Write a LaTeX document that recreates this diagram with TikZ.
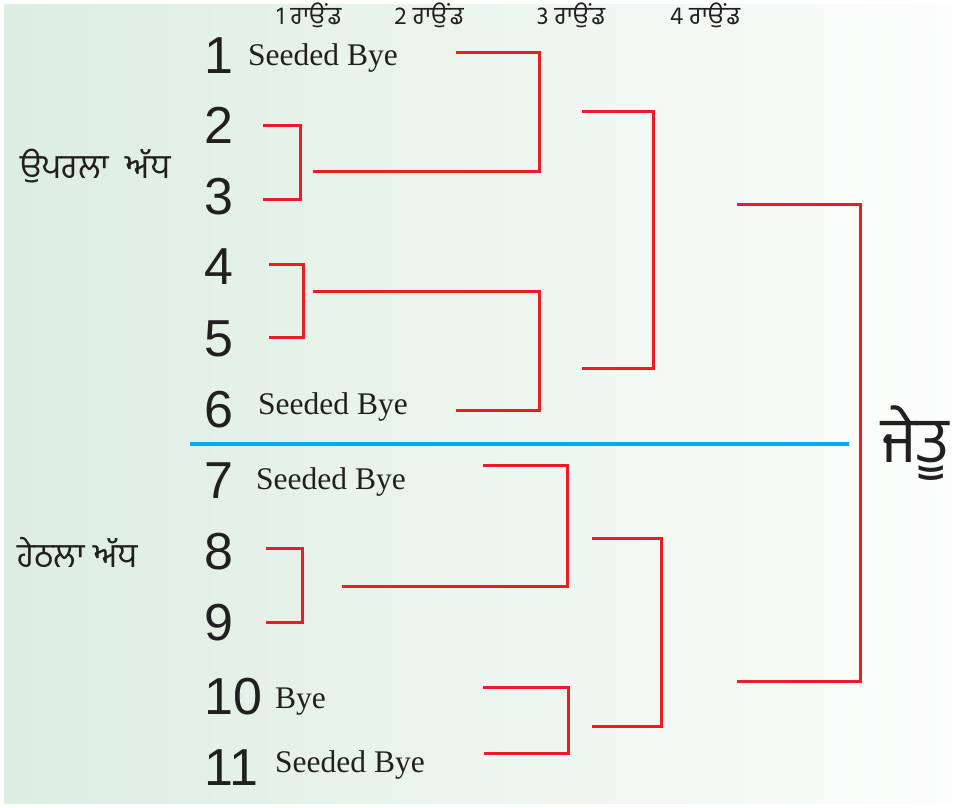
\documentclass[tikz,border=0pt]{standalone}
\usepackage{fontspec}
\setmainfont{Liberation Serif}
\newfontfamily\numfont{Liberation Sans}
\newfontfamily\gurfont[Script=Gurmukhi]{Hind Jalandhar}
\definecolor{bgl}{HTML}{DCEDE1}
\definecolor{bgr}{HTML}{FCFDFC}
\definecolor{bred}{HTML}{ED1C24}
\definecolor{bblue}{HTML}{00AEEF}
\definecolor{ink}{HTML}{231F20}
\begin{document}
\begin{tikzpicture}[x=1pt,y=-1pt,
  num/.style={font=\numfont\fontsize{52}{52}\selectfont, text=ink, inner sep=0pt, anchor=base west},
  sb/.style={font=\fontsize{31.5}{31.5}\selectfont, text=ink, inner sep=0pt, anchor=base west},
  rnd/.style={font=\gurfont\fontsize{25}{25}\selectfont, text=ink, inner sep=0pt, anchor=base},
  half/.style={font=\gurfont\fontsize{34}{34}\selectfont, text=ink, inner sep=0pt, anchor=west},
  br/.style={draw=bred, line width=3pt},
]
\useasboundingbox (0,0) rectangle (955,807);
\fill[white] (0,0) rectangle (955,807);
\shade[left color=bgl, right color=bgr] (4,4) rectangle (951,803);

% round labels
\node[rnd] (r1) at (309,24) {1 ਰਾਉਂਡ};
\node[rnd] (r2) at (429,24) {2 ਰਾਉਂਡ};
\node[rnd] (r3) at (571,24) {3 ਰਾਉਂਡ};
\node[rnd] (r4) at (705,24) {4 ਰਾਉਂਡ};

% halves
\node[half] (up) at (20,166) {ਉਪਰਲਾ\ \ ਅੱਧ};
\node[half] (lo) at (17,552) {ਹੇਠਲਾ ਅੱਧ};
\node[font=\gurfont\fontsize{64}{64}\selectfont, text=ink, inner sep=0pt] (win) at (915,443) {ਜੇਤੂ};

% numbers
\node[num] (n1) at (204,73) {1};
\node[num] (n2) at (204,143) {2};
\node[num] (n3) at (204,214) {3};
\node[num] (n4) at (204,284) {4};
\node[num] (n5) at (204,356) {5};
\node[num] (n6) at (204,427) {6};
\node[num] (n7) at (204,498) {7};
\node[num] (n8) at (204,569) {8};
\node[num] (n9) at (204,640) {9};
\node[num] (n10) at (204,714) {10};
\node[num] (n11) at (204,785) {11};

% bye texts
\node[sb] (s1) at (248,65) {Seeded Bye};
\node[sb] (s6) at (258,414) {Seeded Bye};
\node[sb] (s7) at (256,489) {Seeded Bye};
\node[sb] (s10) at (275,708) {Bye};
\node[sb] (s11) at (275,772) {Seeded Bye};

% divider
\coordinate (dl) at (190,444);
\coordinate (dr) at (849,444);
\draw[draw=bblue, line width=4pt] (dl) -- (dr);

% bracket coordinates
\coordinate (e2) at (263,125); \coordinate (e3) at (263,199); \coordinate (k23) at (300,162);
\coordinate (e4) at (269,264); \coordinate (e5) at (269,337); \coordinate (k45) at (303,300);
\coordinate (e8) at (266,548); \coordinate (e9) at (266,622); \coordinate (k89) at (302,585);
\coordinate (o23) at (313,171); \coordinate (o45) at (313,291); \coordinate (o89) at (342,586);
\coordinate (e1) at (456,52); \coordinate (j1) at (539,52);
\coordinate (e6) at (456,410); \coordinate (j6) at (539,410);
\coordinate (e7) at (483,465); \coordinate (j7) at (567,465);
\coordinate (e10) at (483,687); \coordinate (e11) at (484,753); \coordinate (k1011) at (568,720);
\coordinate (u3a) at (582,111); \coordinate (u3b) at (582,368); \coordinate (k3u) at (653,240);
\coordinate (l3a) at (592,538); \coordinate (l3b) at (592,726); \coordinate (k3l) at (661,630);
\coordinate (f1) at (737,204); \coordinate (f2) at (737,681); \coordinate (kf) at (860,440);

% round 1
\draw[br] (e2) -| (k23) |- (e3);
\draw[br] (e4) -| (k45) |- (e5);
\draw[br] (e8) -| (k89) |- (e9);
% round 2
\draw[br] (e1) -- (j1) |- (o23);
\draw[br] (o45) -| (j6) -- (e6);
\draw[br] (e7) -- (j7) |- (o89);
\draw[br] (e10) -| (k1011) |- (e11);
% round 3
\draw[br] (u3a) -| (k3u) |- (u3b);
\draw[br] (l3a) -| (k3l) |- (l3b);
% final
\draw[br] (f1) -| (kf) |- (f2);
\end{tikzpicture}
\end{document}
